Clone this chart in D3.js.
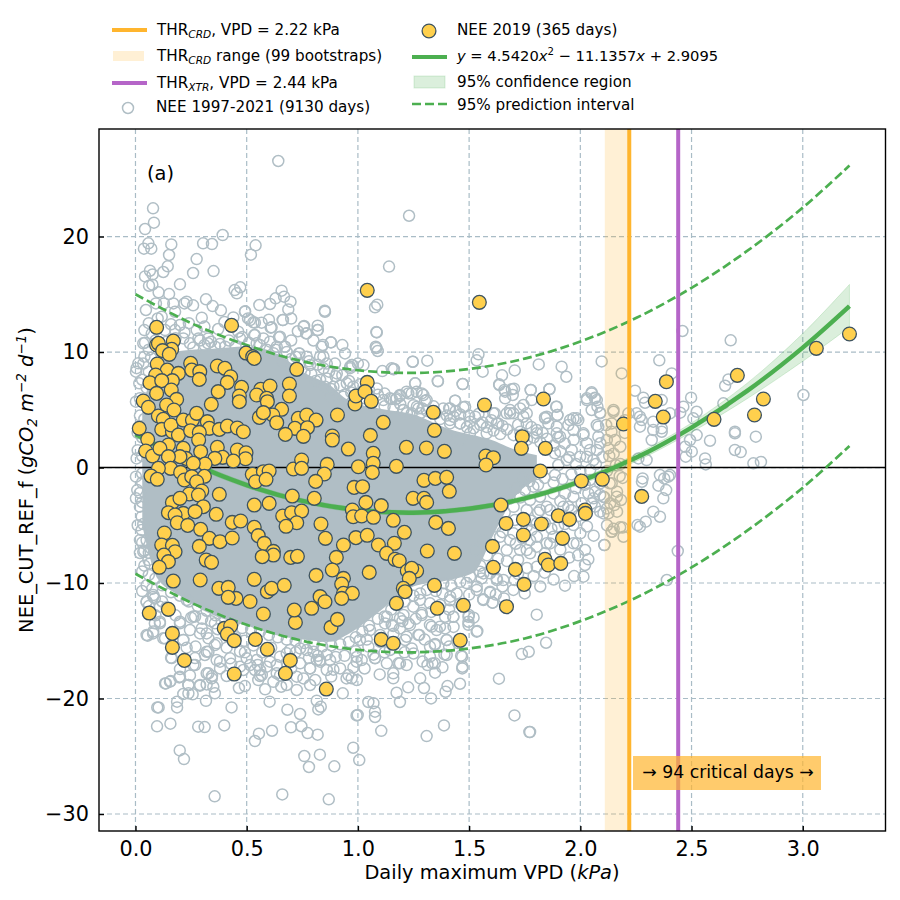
<!DOCTYPE html>
<html>
<head>
<meta charset="utf-8">
<script src="https://cdn.jsdelivr.net/npm/d3@7"></script>
<style>
  html, body { margin: 0; background: #fff; }
  text { font-family: "DejaVu Sans", sans-serif; fill: #000; }
</style>
</head>
<body>
<svg id="chart" width="900" height="900"></svg>
<script>
// values
var xTicks = [0, 0.5, 1, 1.5, 2, 2.5, 3];
var yTicks = [-30, -20, -10, 0, 10, 20];

var thrCrd = 2.22, thrXtr = 2.44;
var thrCrdRange = [2.11, 2.22];

var fitVpd = [0, 0.25, 0.5, 0.75, 1, 1.25, 1.5, 1.75, 2, 2.25, 2.5, 2.75, 3, 3.21];
var fitNee = [2.91, 0.41, -1.52, -2.89, -3.68, -3.91, -3.57, -2.67, -1.19, 0.84, 3.46, 6.63, 10.38, 13.97];
var ciHigh = [3.2, 0.65, -1.3, -2.68, -3.47, -3.71, -3.37, -2.45, -0.93, 1.15, 3.86, 7.3, 11.6, 15.85];
var ciLow = [2.6, 0.17, -1.74, -3.1, -3.89, -4.11, -3.77, -2.89, -1.45, 0.53, 3.06, 5.96, 9.2, 12.15];
var piHigh = [15, 12.5, 10.6, 9.2, 8.42, 8.19, 8.53, 9.43, 10.91, 12.94, 15.56, 18.75, 22.5, 26.15];
var piLow = [-9.2, -11.7, -13.62, -15, -15.78, -16, -15.67, -14.8, -13.3, -11.27, -8.65, -5.47, -1.75, 1.87];

// 9130 rings merge into a solid patch in the middle, so that patch is an outline
var cloudVpd = [0.035, 0.1, 0.2, 0.35, 0.5, 0.65, 0.75, 0.875, 0.95, 1.1, 1.25, 1.4, 1.52, 1.6, 1.7, 1.8];
var cloudTop = [5, 9, 10, 10.2, 10.4, 9.6, 8.2, 7, 5.8, 5, 4.5, 3.3, 2.7, 2.3, 1.5, 1];
var cloudBottom = [-5, -9.5, -11, -12.7, -13.6, -14.5, -14.8, -15, -14.4, -12.3, -10.2, -9.7, -9, -6, -2.5, -1];

var neeAll = [
  [.642,26.54],[.079,22.44],[.083,21.2],[.043,20.65],[.058,19.41],[.038,18.95],[.071,18.95],[.161,19.32],[.151,18.4],[.304,19.41],
  [.344,19.35],[.392,20.13],[.54,19.24],[.519,18.43],[.275,18.05],[.145,17.42],[.125,16.93],[.259,16.84],[.351,17.01],[.065,17.04],
  [.077,16.72],[.043,16.55],[.076,15.83],[.061,15.74],[.2,15.86],[.104,15.17],[.151,15.02],[.446,15.36],[.456,15.08],[.471,15.6],
  [.657,15.31],[.668,14.79],[.63,14.65],[.605,14.16],[.697,14.36],[.687,13.69],[.557,14.07],[.851,13.58],[.317,14.56],[.347,13.98],
  [.384,13.61],[.23,14.36],[.22,14.21],[.259,14.04],[.17,14.21],[.128,14.21],[.047,13.64],[.092,14.21],[.298,12.97],[.493,13.52],
  [.506,12.91],[.53,12.57],[.567,12.54],[.608,12.11],[.663,12.77],[.756,12.19],[.77,11.62],[.819,12.28],[.818,11.9],[.645,11.27],
  [.534,11.47],[.575,11.18],[.878,10.84],[.842,10.61],[.942,9.88],[.735,9.88],[.975,8.87],[.2,12.34],[.118,13.06],[.178,13.49],
  [.043,10.81],[.372,11.99],[.462,11.76],[.215,11.18],[.283,11.18],[.326,10.75],[1.14,17.4],[1.23,21.8],[1.087,14.1],[1.077,13.87],
  [1.083,11.73],[1.083,10.35],[1.089,10.09],[1.025,8.87],[.972,8.87],[1.11,8.35],[1.152,8.59],[1.162,8.53],[1.246,9.16],[1.312,9.25],
  [1.36,7.46],[1.471,7.23],[1.258,7.29],[1.542,9.8],[1.534,9.28],[1.561,8.3],[1.705,8.41],[1.648,7.98],[1.635,7.2],[1.813,8.93],
  [1.916,8.73],[1.937,7.86],[2.096,9.19],[1.777,6.71],[1.861,6.8],[1.702,6.83],[1.659,6.71],[2.051,6.51],[2.029,5.99],[2.066,6.05],
  [2.051,4.98],[2.089,4.75],[1.891,5.27],[1.897,4.55],[1.842,4.26],[1.744,5.41],[1.684,4.98],[1.696,6.28],[1.662,5.99],[1.616,4.69],
  [1.542,4.63],[1.482,5.27],[1.437,5.79],[1.41,5.12],[1.302,5.79],[1.264,6.57],[1.227,6.42],[1.189,6.19],[1.152,5.93],
  [2.459,11.82],[2.676,11.01],[2.355,9.28],[2.186,8.15],[2.411,8.15],[3.003,6.28],[2.246,6.65],[2.283,6.05],[2.291,5.61],[2.366,5.84],
  [2.498,6.05],[2.666,7.63],[2.651,7.08],[2.643,5.56],[2.463,5.27],[2.523,4.83],[2.449,4.75],[2.403,4.69],[2.268,4.4],[2.253,4.69],
  [2.149,4.83],[2.216,4.69],[2.328,3.97],[2.276,4.11],[2.508,4.26],[2.051,6.42],[2.066,5.99],[2.077,5.27],[2.089,4.69],[2.116,3.68],
  [2.074,3.68],[2.141,3.82],[2.268,3.54],[2.366,3.39],[2.695,3.1],[2.695,2.96],[2.789,2.67],[2.583,2.32],[2.695,1.52],[2.721,1.34],
  [2.561,.79],[2.564,.27],[2.778,.36],[2.812,.48],[2.474,.94],[2.501,1.37],[2.523,2.81],[2.493,2.38],[2.471,1.8],[2.328,3.25],
  [2.366,3.1],[2.321,2.38],[2.298,.65],[2.261,.79],[2.358,-.65],[2.396,-.79],[2.403,-.65],[2.377,-.94],[2.351,-1.57],[2.386,-1.95],
  [2.373,-2.67],[2.328,-3.82],[2.358,-4.26],[2.294,-4.69],[2.257,-4.98],[2.268,-5.12],[2.28,-.94],[2.277,-1.23],[2.177,-.74],[2.132,-1.37],
  [2.165,-2.09],[2.109,-2.58],[2.183,-2.81],[2.153,-3.25],[2.12,-3.54],[2.165,-3.82],[2.179,-5.18],[2.141,-5.56],[2.194,-5.99],[2.108,-6.71],
  [2.438,-7.23],[2.389,-9.74],[2.089,-3.82],[2.051,-3.1],[2.066,-2.09],
  [2.036,-7.95],[2.021,-8.44],[2.014,-9.45],[1.972,-9.4],[1.931,-10.23],[1.804,-12.74],[1.846,-15.17],[1.768,-15.95],[1.737,-16.15],[1.634,-18.28],
  [1.704,-21.46],[1.771,-22.9],[1.774,-22.9],[1.387,-22.33],[1.309,-23.25],[1.105,-22.8],[.999,-21.43],[1.077,-21.14],[1.077,-21.6],[1.047,-20.3],
  [1.07,-20.4],[1.189,-20.3],[1.329,-19.99],[1.174,-19.5],[1.226,-19.03],[1.297,-19.09],[1.394,-19.41],[1.403,-18.92],[1.459,-18.72],[1.28,-18.25],
  [1.347,-17.76],[1.313,-17.1],[1.335,-16.96],[1.47,-17.25],[1.464,-16.29],[1.389,-16.18],[1.291,-16.8],[1.219,-17.1],[1.159,-17.82],[1.159,-18.25],
  [1.098,-17.91],[1.077,-16.5],[1.017,-16.67],[.972,-18.25],[.995,-18.4],[1.347,-15.28],[1.399,-14.94],[1.276,-14.5],[1.537,-14.16],[1.497,-13.35],
  [1.499,-12.77],[1.429,-12.91],[1.369,-13.78],[1.332,-13.78],[1.234,-13.64],[1.159,-13.72],[1.606,-11.7],[1.563,-11.4],[1.699,-10.6],[1.594,-10.84],
  [1.549,-9.02],[1.657,-11.33],[1.625,-9.74],[1.705,-9.74],[1.841,-7.43],[1.774,-6.28],
  [.356,-28.47],[.66,-28.3],[.869,-28.73],[.199,-24.49],[.218,-25.24],[.537,-23.68],[.555,-23.04],[.614,-22.79],[.759,-24.98],[.78,-25.93],
  [.829,-24.86],[.894,-25.87],[.979,-24.26],[1.006,-25.33],[.097,-22.41],[.157,-22.18],[.282,-22.44],[.311,-22.47],[.399,-22.33],[.104,-20.77],
  [.098,-20.77],[.187,-20.77],[.187,-20.27],[.432,-20.77],[.603,-20.27],[.683,-20.97],[.74,-21.34],[.699,-22.49],[.746,-22.4],[.774,-22.99],
  [.819,-23.13],[.822,-20.94],[.833,-20.71],[.994,-21.46],[.815,-20.19],[.932,-19.55],[.583,-19.2],[.465,-19.09],[.492,-18.92],[.357,-19.55],
  [.317,-20.2],[.238,-19.55],[.257,-19.64],[.215,-19.61],[.137,-18.69],[.158,-18.49],[.197,-18.17],[.238,-18.83],[.29,-18.89],[.32,-18.78],
  [.35,-18.98],[.32,-17.82],[.344,-18.05],[.055,-14.56],[.079,-14.36],[.133,-14.79],[.16,-16.47],[.2,-17.45],[.268,-16.5],[.268,-17.1],
  [.32,-15.95],[.365,-16.67],[.41,-18.05],[.515,-17.1],[.56,-18.05],[.62,-18.55],[.655,-18.98],[.725,-19.26],[.755,-18.26],[.785,-18.83],
  [.785,-17.39],[.949,-18.26],[.83,-16.67],[.994,-16.81],[.89,-17.5],[.05,-11.62],[.087,-11.33],[.087,-13.49],[.11,-13.35],
  [.002,8.3],[.013,9.02],[.002,5.7],[.017,7.29],[.005,.79],[.002,-.79],[.008,-1.95],[.002,-2.67],[.035,-7.29],[.058,-8.01],
  [.065,-8.3],[.02,-3.39],[.028,-4.26],[.028,-5.41],[.02,-6.28],
  [1.909,2.67],[1.954,4.11],[1.984,4.26],[2.014,2.96],[2.081,3.54],[2.119,2.38],[2.081,2.67],[1.969,3.25],[2.029,.94],[2.074,1.52],
  [2.044,-.22],[1.894,2.96],[1.849,4.4],[1.804,2.96],[1.759,3.82],[1.699,4.69],[1.669,4.69],[1.744,4.4],[1.624,3.82],[1.579,2.96],
  [1.504,2.96],[1.459,3.82],[1.414,4.11],[1.459,2.38],[1.399,2.67],[1.242,4.69],[1.204,4.98],[1.272,5.12],[1.294,6.28],
  [1.864,-3.68],[1.924,-3.39],[2,-5.7],[1.984,-6.57],[1.864,-6.57],[1.804,-6],[1.781,-5.4],[1.699,-5.7],[1.639,-6],[1.564,-6.3],
  [1.527,-7.15],[1.669,-7.15],[1.759,-7.15],[1.804,-8.6],[1.654,-9.74],[1.594,-9.16],[1.534,-10.3],[1.489,-10],[1.444,-10.9],[1.414,-11.5],
  [1.287,-12.6],[1.189,-13.06],[1.122,-13.5],[1.054,-14.07],[1.009,-14.93],[1.047,-15.5],[1.219,-14.65],[1.324,-15.5],[1.144,-15.8],[1.07,-16.2],
  [.995,-16.4],[1.182,-16.95],
  [.08,-11.2],[.11,-12.05],[.23,-11.47],[.26,-12.9],[.2,-13.35],[.245,-14.07],[.29,-14.36],[.215,-14.93],[.32,-14.36],[.357,-13.49],
  [.365,-15.22],[.47,-15.93],[.5,-16.52],[.545,-16.67],[.59,-17.24],[.635,-17.1],[.68,-16.09],[.74,-15.66],[.8,-15.95],[.875,-16.67],
  [.92,-17.39],[.957,-17.97],[.815,-16.67],[.74,-16.95],[.65,-18],[.56,-17.53],[.485,-17.53],[.38,-17.39],[.245,-18],
  [.035,10.75],[.073,11.6],[.133,11.9],[.245,10.75],[.29,11],[.327,11.18],[.358,10.46],[.403,10.46],[.47,11.18],[.605,10.9],
  [.672,10.46],[.77,9.6],[.845,9.6],[.86,9],[.897,9],[.965,8.6],[1,9],[.74,9],[.635,10.46],[.545,10.75],
  [.178,11.9],[.275,11.9],[.005,8.6],[.035,9]
];

var neeFringe = [
  [1.471,7.23],[1.437,5.79],[1.414,5.12],[1.474,5.21],[1.636,7.14],[1.662,6.57],[1.692,6.77],[1.777,6.71],[1.861,6.77],[1.894,5.27],
  [1.897,4.54],[1.841,4.34],[1.781,5.84],[1.759,4.69],[1.729,5.12],[1.684,4.69],[1.631,3.82],[1.609,4.69],[1.527,4.4],[1.504,3.97],
  [1.459,3.82],[1.414,3.82],[2.074,5.84],[2.029,5.84],[1.969,4.26],[1.991,4.11],[1.946,3.68],[1.894,3.54],[1.856,3.82],[1.804,3.25],
  [2.014,2.81],[2.043,1.52],[2.059,.65],[1.999,.94],[1.961,1.52],[1.93,2.09],[1.886,1.23],[1.939,.65],[1.901,.22],[1.886,-.65],
  [1.751,-1.95],[1.789,-1.66],[1.819,-2.53],[1.849,-3.39],[1.774,-2.81],[1.759,-3.68],[1.879,-2.24],[1.931,-2.24],[1.969,-2.53],[2.036,-2.24],
  [2.059,-2.67],[2.089,-2.38],[2.104,-3.97],[2.066,-3.39],[2.006,-3.1],[1.819,-3.68],[1.946,-3.39],[1.969,-4.98],[1.879,-5.99],[1.849,-6.56],
  [1.804,-6.85],[1.969,-6.56],[2.021,-7.14],[2.108,-6.71],[1.774,-7.43],[1.729,-7.14],[1.684,-6.28],[1.804,-4.83],[1.706,-4.54],[1.759,-5.12],
  [2.126,-3.97],[2.141,-5.56],[2.149,4.98],[2.126,1.66],[2.156,2.38],[2.141,-1.37],[2.164,-2.53],[2.134,-3.1],[2.104,-2.53],[2.089,-1.37],[2.043,-1.08],
  [.492,13.49],[.515,12.77],[.537,12.54],[.612,12.14],[.662,12.77],[.758,12.25],[.767,11.61],[.82,11.9],[.852,13.49],[1.085,11.7],
  [1.08,10.46],[.537,11.47],[.65,11.32],[.672,10.46],[.737,9.88],[.837,10.46],[.879,10.83],[.83,9.6],[1.16,8.5],[1.247,9.16],
  [1.359,7.49],[1.257,7.29],[1.219,6.57],[1.174,5.99],[.965,8.73],[.785,8.87],[.845,8.59],[.905,8.15],[.83,7.58],[.89,7],
  [.95,7.29],[.934,6.13],[.875,6.13],[.979,7],[1.114,5.84],[1.144,5.99],[1.189,6.28],[1.242,6.42],[1.287,6.42],[1.384,5.12],
  [1.309,5.84],[1.204,4.98],[1.265,5.27],[1.085,6.85],[.852,7],
  [.05,-11.62],[.08,-11.04],[.11,-13.49],[.08,-14.2],[.05,-14.5],[.125,-14.79],[.215,-14.93],[.2,-13.49],[.268,-12.9],[.298,-13.93],
  [.328,-14.79],[.328,-15.94],[.357,-15.37],[.312,-16.23],[.26,-17.1],[.163,-16.5],[.155,-18.54],[.133,-18.69],[.2,-18.11],[.238,-18.83],
  [.29,-18.83],[.328,-17.82],[.343,-18.26],[.38,-16.81],[.425,-16.52],[.492,-16],[.47,-17.24],[.568,-17.96],[.605,-16.81],[.65,-16.38],
  [.537,-17.53],[.552,-18.4],[.725,-18.11],[.785,-17.39],[.77,-15.8],[.83,-16.81],[.86,-17.53],[.635,-17.82],[.695,-15.8],[.808,-18.4],[.68,-18.83],
  [1.534,-14.21],[1.497,-13.62],[1.497,-12.92],[1.429,-12.92],[1.324,-13.63],[1.354,-14.07],[1.392,-13.93],[1.272,-14.5],[1.227,-13.49],[1.189,-13.93],
  [1.152,-13.63],[1.13,-12.91],[1.287,-12.77],[1.392,-12.92],[1.399,-14.93],[1.346,-15.36],[1.324,-16.37],[1.399,-16.23],[1.469,-16.38],[1.469,-17.39],
  [1.242,-15.66],[1.212,-14.93],[1.077,-16.52],[1.346,-16.95],[1.13,-16.95],[1.189,-16.95],[1.564,-11.47],[1.605,-11.7],[1.594,-10.75],[1.556,-9.6],
  [1.624,-9.6],[1.504,-9.45],[1.564,-9.17],[1.534,-10.6],[1.384,-10.03],[1.415,-11.18],[1.279,-11.47],[1.249,-12.05],[1.324,-11.76],[1.205,-12.77],
  [.01,-5],[.03,-6.5],[.04,-8.5],[.02,-7.4],[.06,-9.3],[.05,-10.2],[.075,-10.5],[.03,-9],[.02,4.5],[.01,3],
  [.03,1],[.01,1.5],[.03,-.5],[.02,-2.2],[.03,7.6],[.04,9.6],[.02,6],
  [2.12,-5],[2.15,-5.3],[2.19,-5.2],[2.13,1],[2.16,.2],[2.19,-.9]
];

// rings packed against the edge of the patch, positions only estimated
var neeEdge = [
  [.62,9.9],[.66,9.2],[.7,9.4],[.72,8.6],[.76,8.2],[.79,8.1],[.81,7.5],[.86,7.7],[.88,6.8],[.92,7.1],
  [.94,6.3],[.97,6.5],[1,6.2],[1.03,6],[1.06,5.5],[1.09,6.3],[1.12,5.3],[1.16,5.2],[1.19,5.5],[1.22,4.7],
  [1.25,5.4],[1.28,4.7],[1.31,4.9],[1.34,5.3],[1.37,4.2],[1.4,4.5],[1.43,4.4],[1.46,4.6],[1.49,3.5],[1.52,3.4],
  [1.55,3.7],[1.58,3.5],[1.61,3.2],[1.64,2.9],[1.67,3.3],[1.7,2.8],[1.73,3.1],[1.76,2.4],[1.79,2.6],[1.82,2.2],
  [1.85,2.5],[1.88,1.9],[1.91,1.4],[1.95,.9],[1.98,.3],[2,-.3],[1.96,-.6],[1.92,-1],[1.88,-1.3],[1.84,-.9],
  [1.81,-1.5],[1.77,-1.2],[1.74,-.9],[.9,7.9],[.96,7.5],[1.01,7.2],[1.05,6.7],[1.12,6.4],[1.17,5.9],[1.29,5.1],
  [1.35,4.7],[1.44,4.9],[1.5,4.5],[1.56,3.9],[1.6,4.1],[1.65,3.6],[1.72,3.7],[1.78,3.5],[1.83,3],[1.9,2.6],
  [1.97,2.4],[2.03,2.1],[2.07,.3],[2.09,2.1],[2.1,.9],[2.12,-.3],[2.15,1.2],[2.18,1.8],[2.2,3],[2.18,.3],
  [2.14,3.1],[2.2,4.1],[1.62,-5.1],[1.66,-3.9],[1.7,-3.4],[1.73,-2.6],[1.71,-1.8],[1.68,-2.7],[1.65,-5.6],[1.6,-6.8],
  [1.58,-7.6],[1.55,-8.5],[1.63,-7.9],[1.67,-8.1],[1.71,-6.6],[1.74,-6.1],[1.78,-4.6],[1.81,-3.9],[1.84,-4.8],[1.87,-5.3],
  [1.9,-5.1],[1.93,-4.9],[1.96,-3.7],[1.99,-4.2],[2.03,-5.1],[2.06,-5.9],[1.91,-2.9],[1.98,-1.8],[2.02,-1.5],[1.72,-8],
  [1.76,-8.7],[1.79,-9.4],[1.84,-9.1],[1.88,-9.7],[1.82,-10.3],[1.75,-10.9],[1.72,-9.2],[1.65,-10.3],[1.62,-11],[1.91,-7.1],
  [1.95,-7.8],[1.99,-7.6],[1.46,-9.9],[1.42,-10.2],[1.38,-10.9],[1.35,-10.7],[1.31,-10.6],[1.28,-10.9],[1.25,-11.1],[1.21,-11.6],
  [1.18,-11.9],[1.15,-12.3],[1.12,-12.9],[1.09,-13.1],[1.05,-13.7],[1.02,-14.2],[.99,-14.7],[.96,-15.1],[.92,-15.3],[.88,-15.4],
  [.84,-15.5],[.8,-15.3],[.76,-15.2],[.72,-15],[.68,-14.9],[.64,-14.7],[.6,-14.5],[.56,-14.2],[.52,-14],[.48,-13.9],
  [.44,-13.4],[.4,-13],[.36,-12.8],[.32,-12.4],[.28,-12],[.24,-11.6],[.2,-11.1],[.16,-10.8],[.12,-10.2],[.09,-9.6],
  [.06,-7.4],[1.5,-11],[1.46,-11.8],[1.41,-12.3],[1.37,-11.9],[1.33,-12.5],[1.26,-13.1],[1.2,-13.3],[1.16,-14.4],[1.1,-14.5],
  [1.04,-14.9],[.99,-15.9],[.94,-16.3],[.9,-16.4],[.86,-16.2],[.82,-16.3],[.78,-16.5],[.72,-16],[.68,-16.9],[.61,-15.6],
  [.57,-16],[.53,-15.4],[.49,-15],[.45,-14.7],[.41,-15.6],[.37,-14],[.34,-13.3],[.3,-13.1],[.25,-13],[.23,-15.6],
  [.18,-12.8],[.14,-12.1],[.12,-11.6],[.09,-12.8],[.06,-12],[.03,-10.7],[.27,-15.5],[.43,-17],[.55,-17.1],[.7,-17.4],
  [.88,-18.1],[.98,-17.3],[1.03,-17.4],[1.12,-16],[1.25,-16.1],[1.41,-15.5],[1.45,-15.2],[1.52,-13],[1.43,-13.8],[1.3,-14.9],
  [1.38,-17.3],[1.21,-16],[1.1,-15.1],[.03,2.6],[.04,4.2],[.03,-1.3],[.03,-3],[.035,-4.9],[.05,-6.3],[.04,-7.2],
  [.07,-7],[.05,6.9],[.06,8.3],[.07,9.5],[.06,10.2],[.09,11],[.11,10.4],[.14,10.9],[.18,11.2],[.22,11.7],
  [.26,10.4],[.31,10.6],[.34,10.9],[.38,10.7],[.42,11],[.45,10.5],[.48,11.3],[.51,10.8],[.56,10.6],[.59,10.2],
  [.63,10.2],[.68,10],[.72,9.6],[.78,9.2],[.82,8.9],[.87,8.3],[.93,8],[.04,11.9],[.06,12.5],[.1,12.9],
  [.16,12.4],[.24,12.5],[.31,12.2],[.4,12.6],[.44,13],[.6,12.8],[.7,11],[.8,11],[.93,10.6],[.7,12.9],[.73,11.8]
];

var nee2019 = [
  [.098,8.96],[.143,8.44],[.193,8.15],[.091,8.01],[.065,7.34],[.166,7.52],[.118,7.52],[.248,9.02],[.253,8.44],[.289,8.3],
  [.287,7.63],[.368,8.79],[.402,8.59],[.428,7.86],[.413,7.37],[.477,6.94],[.372,6.57],[.467,6.19],[.467,5.7],[.341,5.47],
  [.095,6.42],[.161,6.71],[.185,5.9],[.035,5.76],[.058,5.21],[.14,5.41],[.173,4.98],[.563,6.77],[.605,7.06],[.545,6.28],
  [.59,5.99],[.593,5.7],[.692,7.23],[.692,6.19],[.657,5.04],[.557,4.34],[.617,4.55],[.635,3.88],[.575,4.75],[.732,4.26],
  [.77,4.55],[.812,4.11],[.908,4.55],[.717,3.39],[.773,3.45],[.674,2.87],[.755,2.7],[.885,2.73],[.885,2.38],[.957,1.6],
  [.017,3.39],[.055,2.44],[.046,1.43],[.077,1],[.103,4.46],[.125,4.17],[.118,3.3],[.166,3.1],[.16,3.68],[.193,2.81],
  [.215,4.11],[.256,4.11],[.275,4.69],[.323,3.97],[.332,3.39],[.377,3.3],[.413,3.59],[.458,3.42],[.485,3.1],[.248,3.19],
  [.287,3.04],[.284,2.38],[.368,1.75],[.148,1.95],[.11,1.66],[.215,1.66],[.293,1.37],[.227,.79],[.2,.94],[.148,.94],
  [.392,.88],[.357,.79],[.458,1.52],[.497,1.28],[.495,.76],[.44,.56],[.313,.3],[.26,.36],[.158,-.07],[.203,-.42],
  [.103,-.07],[.07,-.74],[.098,-1.02],[.22,-1.08],[.253,-.79],[.31,-.76],[.275,-1.23],[.298,-2.03],[.242,-2.29],[.283,-2.38],
  [.377,-2.32],[.166,-3.02],[.2,-2.67],[.305,-3.39],[.215,-3.97],[.268,-3.82],[.148,-3.91],[.178,-4.11],[.188,-4.78],[.235,-5.01],
  [.363,-4.05],[.435,-4.75],[.473,-4.63],[.534,-5.18],[.552,-5.9],[.293,-5.35],[.332,-6.13],[.38,-6.42],[.435,-6.1],[.13,-5.67],
  [.118,-6.71],[.166,-6.74],[.178,-7.29],[.128,-7.58],[.148,-8.15],[.107,-8.64],[.287,-6.83],[.318,-8.01],[.342,-8.21],[.579,-6.57],
  [.62,-7.26],[.62,-7.58],[.57,-7.72],[.698,-7.78],[.728,-7.69],[.17,-9.83],[.291,-9.74],[.534,-9.68],[.375,-10.46],[.417,-10.38],
  [.452,-11.33],[.593,-10.75],[.612,-10.46],[.669,-10.2],[.515,-11.6],[.525,-.59],[.575,-.36],[.601,-.3],[.54,-1.23],[.587,-1.02],
  [.71,-.13],[.747,.65],[.747,-.07],[.862,.27],[.849,-.56],[.81,-1.2],[.705,-2.47],[.804,-2.67],[.534,-3.25],[.601,-3.1],
  [.662,-4.2],[.702,-3.91],[.747,-3.77],[.725,-4.78],[.677,-5.09],[.834,-4.89],[.854,-6.13],[.935,-6.71],[.991,-6.07],[.903,-7.78],
  [.812,-9.34],[.885,-8.87],[.935,-9.6],[.927,-10.09],[.935,-10.89],[.975,-10.89],[.975,-3.68],[.979,-4.26],[.983,-1.72],[1.002,.07],
  [.987,5.5],[.991,6.19],[.83,-11.18],[.852,-11.62],[.725,8.5],
  [.062,-12.6],[.148,-12.28],[.166,-14.36],[.166,-15.57],[.22,-16.7],[.444,-17.88],[.399,-13.93],[.428,-13.72],[.413,-14.42],[.444,-14.99],
  [.417,-11.24],[.575,-12.68],[.539,-14.88],[.593,-15.74],[.696,-16.7],[.674,-17.82],[.858,-19.18],[.719,-13.41],[.714,-12.34],[.792,-12.19],
  [.879,-13.84],[.908,-13.15],[.927,-11.33],
  [.095,12.14],[.432,12.31],[.095,10.61],[.103,10.75],[.17,10.95],[.163,10.23],[.122,10.12],[.152,9.8],[.497,9.91],[.527,9.6],[.534,9.45],
  [1.042,15.34],[1.546,14.3],[1.042,7.37],[1.032,6.57],[1.06,5.73],[1.114,3.91],[1.056,2.78],[1.339,4.78],[1.344,3.22],[1.569,5.41],
  [1.834,5.93],[1.739,2.67],[1.735,1.66],[1.843,1.66],[1.218,1.75],[1.308,1.69],[1.389,1.4],[1.575,1],[1.609,.85],[1.576,.22],
  [1.069,1.23],[1.069,.36],[1.065,-.42],[1.173,.1],[1.82,-.3],[2.005,-1.17],[2.099,-1.02],[1.297,-1.11],[1.348,-.94],[1.399,-.85],
  [1.411,-2.06],[1.248,-2.67],[1.297,-2.67],[1.309,-3.02],[1.021,-1.66],[1.036,-3.02],[1.105,-3.3],[1.643,-3.25],[2.021,-3.68],
  [1.017,-4.2],[1.07,-4.31],[1.159,-4.57],[1.35,-4.75],[1.407,-5.27],[1.209,-5.61],[1.666,-4.84],[1.744,-4.49],[1.825,-4.89],[1.901,-4.17],
  [1.951,-4.49],[2.023,-3.97],[1.042,-5.87],[1.092,-6.71],[1.164,-6.56],[1.129,-7.43],[1.312,-7.23],[1.434,-7.43],[1.605,-6.83],[1.744,-5.84],
  [1.92,-6.13],[1.167,-7.95],[1.186,-8.07],[1.841,-7.95],[1.856,-8.44],[1.912,-8.3],[1.609,-8.64],[1.708,-8.82],[1.051,-9.08],[1.222,-8.96],
  [1.264,-8.96],[1.242,-8.73],[1.231,-9.6],[1.204,-10.46],[1.212,-10.75],[1.344,-10.2],[1.747,-10.12],[1.173,-11.76],[1.357,-12.19],[1.474,-11.93],
  [1.668,-12.05],[1.105,-14.88],[1.159,-15.22],[1.46,-14.96],
  [2.387,7.43],[2.337,5.73],[2.373,4.37],[2.194,3.77],[2.601,4.17],[2.706,7.98],[2.823,5.93],[2.783,4.55],[3.061,10.32],[3.21,11.56],[2.276,-2.5]
];

var ringColor = "#b0bec5", green = "#4caf50", orange = "#ffb52e", purple = "#b565c8", yellow = "#ffd04d", edge = "#3d5361";

var svg = d3.select("#chart");
var x = d3.scaleLinear().domain([-0.164, 3.372]).range([99, 885.5]);
var y = d3.scaleLinear().domain([-31.47, 29.31]).range([831, 129]);

svg.append("clipPath").attr("id", "plotClip").append("rect")
  .attr("x", 99).attr("y", 129).attr("width", 786.5).attr("height", 702);
var plot = svg.append("g").attr("clip-path", "url(#plotClip)");

// grid
plot.selectAll(".gx").data(xTicks).enter().append("line")
  .attr("x1", d => x(d)).attr("x2", d => x(d)).attr("y1", 129).attr("y2", 831)
  .attr("stroke", "#a9bcc6").attr("stroke-width", 1.2).attr("stroke-dasharray", "5,3");
plot.selectAll(".gy").data(yTicks).enter().append("line")
  .attr("y1", d => y(d)).attr("y2", d => y(d)).attr("x1", 99).attr("x2", 885.5)
  .attr("stroke", "#a9bcc6").attr("stroke-width", 1.2).attr("stroke-dasharray", "5,3");

// solid part of the cloud, then the rings
plot.append("path").datum(cloudVpd)
  .attr("d", d3.area().x(d => x(d))
    .y0((d, i) => y(cloudBottom[i])).y1((d, i) => y(cloudTop[i])).curve(d3.curveMonotoneX))
  .attr("fill", ringColor).attr("stroke", ringColor).attr("stroke-width", 2);
plot.selectAll(".ring").data(neeAll.concat(neeFringe, neeEdge)).enter().append("circle")
  .attr("cx", d => x(d[0])).attr("cy", d => y(d[1])).attr("r", 5.5)
  .attr("fill", "none").attr("stroke", ringColor).attr("stroke-width", 1.5);

plot.append("line").attr("x1", 99).attr("x2", 885.5).attr("y1", y(0)).attr("y2", y(0))
  .attr("stroke", "#000").attr("stroke-width", 1.4);

plot.append("rect").attr("x", x(thrCrdRange[0])).attr("width", x(thrCrdRange[1]) - x(thrCrdRange[0]))
  .attr("y", 129).attr("height", 702).attr("fill", orange).attr("opacity", 0.2);

// fit with its bands
plot.append("path").datum(fitVpd)
  .attr("d", d3.area().x(d => x(d))
    .y0((d, i) => y(ciLow[i])).y1((d, i) => y(ciHigh[i])).curve(d3.curveCatmullRom))
  .attr("fill", green).attr("fill-opacity", 0.2).attr("stroke", green).attr("stroke-opacity", 0.2);
function fitLine(vals) {
  return d3.line().x(d => x(d)).y((d, i) => y(vals[i])).curve(d3.curveCatmullRom);
}
plot.append("path").datum(fitVpd).attr("d", fitLine(fitNee))
  .attr("fill", "none").attr("stroke", green).attr("stroke-width", 4.5);
[piHigh, piLow].forEach(function(vals) {
  plot.append("path").datum(fitVpd).attr("d", fitLine(vals))
    .attr("fill", "none").attr("stroke", green).attr("stroke-width", 2.7).attr("stroke-dasharray", "9,4");
});

plot.selectAll(".day").data(nee2019).enter().append("circle")
  .attr("cx", d => x(d[0])).attr("cy", d => y(d[1])).attr("r", 6.9)
  .attr("fill", yellow).attr("stroke", edge).attr("stroke-width", 1.3);

plot.append("line").attr("x1", x(thrCrd)).attr("x2", x(thrCrd)).attr("y1", 129).attr("y2", 831)
  .attr("stroke", orange).attr("stroke-width", 4);
plot.append("line").attr("x1", x(thrXtr)).attr("x2", x(thrXtr)).attr("y1", 129).attr("y2", 831)
  .attr("stroke", purple).attr("stroke-width", 4);

svg.append("rect").attr("x", 633).attr("y", 756).attr("width", 188).attr("height", 34)
  .attr("fill", orange).attr("opacity", 0.7);
svg.append("text").attr("x", 728).attr("y", 778).attr("text-anchor", "middle")
  .attr("font-size", 17.3).text("\u2192 94 critical days \u2192");

svg.append("text").attr("x", 147).attr("y", 180).attr("font-size", 19.4).text("(a)");

// axes, ticks point inwards
var xAxis = svg.append("g").attr("transform", "translate(0,831)")
  .call(d3.axisBottom(x).tickValues(xTicks).tickFormat(d3.format(".1f")).tickSize(-5).tickPadding(10));
var yAxis = svg.append("g").attr("transform", "translate(99,0)")
  .call(d3.axisLeft(y).tickValues(yTicks).tickSize(-5).tickPadding(10));
[xAxis, yAxis].forEach(function(a) {
  a.select(".domain").remove();
  a.selectAll("line").attr("stroke", "#000").attr("stroke-width", 1.4);
  a.selectAll("text").attr("font-size", 20.8).attr("font-family", "DejaVu Sans");
});
svg.append("rect").attr("x", 99).attr("y", 129).attr("width", 786.5).attr("height", 702)
  .attr("fill", "none").attr("stroke", "#000").attr("stroke-width", 1.4);

var xLabel = svg.append("text").attr("x", 492).attr("y", 879).attr("text-anchor", "middle").attr("font-size", 19.4);
xLabel.append("tspan").text("Daily maximum VPD (");
xLabel.append("tspan").attr("font-style", "italic").text("kPa");
xLabel.append("tspan").text(")");

var yLabel = svg.append("text").attr("transform", "translate(33,480) rotate(-90)")
  .attr("text-anchor", "middle").attr("font-size", 19.4);
yLabel.append("tspan").text("NEE_CUT_REF_f (");
yLabel.append("tspan").attr("font-style", "italic").text("gCO");
yLabel.append("tspan").attr("font-style", "italic").attr("font-size", 13.5).attr("dy", 4).text("2");
yLabel.append("tspan").attr("font-style", "italic").attr("dy", -4).text(" m");
yLabel.append("tspan").attr("font-style", "italic").attr("font-size", 13.5).attr("dy", -7).text("\u22122");
yLabel.append("tspan").attr("font-style", "italic").attr("dy", 7).text(" d");
yLabel.append("tspan").attr("font-style", "italic").attr("font-size", 13.5).attr("dy", -7).text("\u22121");
yLabel.append("tspan").attr("dy", 7).text(")");

// legend
var legend = svg.append("g");
function legendLine(x1, yy, color, dash) {
  legend.append("line").attr("x1", x1).attr("x2", x1 + 35).attr("y1", yy).attr("y2", yy)
    .attr("stroke", color).attr("stroke-width", dash ? 2.7 : 4).attr("stroke-dasharray", dash || null);
}
function legendText(x1, yy, parts, size) {
  var t = legend.append("text").attr("x", x1).attr("y", yy).attr("font-size", size || 15.2);
  parts.forEach(function(p) {
    var s = t.append("tspan").text(p.t);
    if (p.i) s.attr("font-style", "italic");
    if (p.dy) s.attr("dy", p.dy);
    if (p.s) s.attr("font-size", p.s);
  });
}
legendLine(112, 30, orange);
legendText(157, 35, [{t: "THR"}, {t: "CRD", i: 1, s: 10.6, dy: 3}, {t: ", VPD = 2.22 kPa", dy: -3}]);
legend.append("rect").attr("x", 113).attr("y", 51).attr("width", 31).attr("height", 10).attr("fill", orange).attr("opacity", 0.2);
legendText(157, 61, [{t: "THR"}, {t: "CRD", i: 1, s: 10.6, dy: 3}, {t: " range (99 bootstraps)", dy: -3}]);
legendLine(112, 83, purple);
legendText(157, 88, [{t: "THR"}, {t: "XTR", i: 1, s: 10.6, dy: 3}, {t: ", VPD = 2.44 kPa", dy: -3}]);
legend.append("circle").attr("cx", 128).attr("cy", 108).attr("r", 5.5).attr("fill", "none").attr("stroke", ringColor).attr("stroke-width", 1.5);
legendText(156, 112, [{t: "NEE 1997-2021 (9130 days)"}]);

legend.append("circle").attr("cx", 429).attr("cy", 31).attr("r", 6.9).attr("fill", yellow).attr("stroke", edge).attr("stroke-width", 1.3);
legendText(457, 35, [{t: "NEE 2019 (365 days)"}]);
legendLine(412, 57, green);
legendText(457, 61, [{t: "y", i: 1}, {t: " = 4.5420"}, {t: "x", i: 1}, {t: "2", s: 10.2, dy: -6}, {t: " \u2212 11.1357", dy: 6}, {t: "x", i: 1}, {t: " + 2.9095"}], 14.7);
legend.append("rect").attr("x", 414).attr("y", 76).attr("width", 31).attr("height", 12).attr("fill", green).attr("fill-opacity", 0.2).attr("stroke", green).attr("stroke-opacity", 0.2);
legendText(457, 87, [{t: "95% confidence region"}]);
legendLine(412, 104, green, "9,4");
legendText(457, 110, [{t: "95% prediction interval"}]);
</script>
</body>
</html>
